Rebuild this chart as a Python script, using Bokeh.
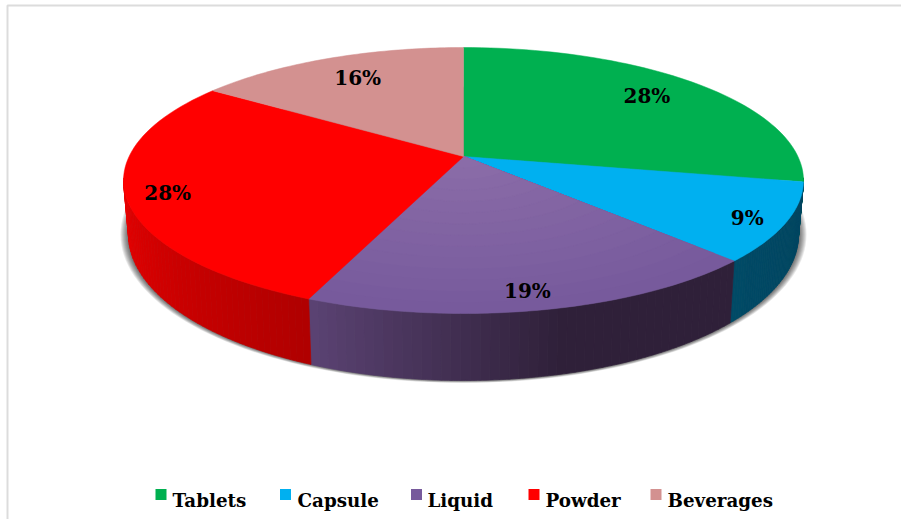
import math
from bokeh.plotting import figure
from bokeh.models import Range1d
from bokeh.core.properties import value
from bokeh.embed import file_html
from bokeh.resources import INLINE

# ---- data ----
categories = ["Tablets", "Capsule", "Liquid", "Powder", "Beverages"]
shares = [28.0, 9.4, 19.0, 28.0, 15.6]
labels = ["28%", "9%", "19%", "28%", "16%"]

# ---- style ----
top_colors = ["#00B050", "#00B0F0", "#775A9C", "#FF0000", "#D39190"]
top_inner = ["#00B050", "#00B0F0", "#8A6CA8", "#FF0000", "#D39190"]
wall_left = ["#00803A", "#004A66", "#5A4272", "#E80000", "#A06C6A"]
wall_right = ["#00803A", "#004560", "#2F2039", "#B00000", "#A06C6A"]
legend_box_x = [160.5, 285, 416, 533.5, 655.5]
legend_text_x = [172, 297, 427, 545, 667]
label_fx = [0.80, 0.88, 0.826, 0.876, 0.79]
label_fy = [0.82, 0.93, 0.875, 0.93, 0.80]

W, H = 901, 519
CX, CY, RX, RY = 463, 180, 340, 133     # top rim
BY, BRX, BRY = 234, 335, 146            # bottom rim
APEX_Y = 156
E = (CY - APEX_Y) / RY
FONT = "DejaVu Serif"


def rim_t(phi):
    """Rim parameter (radians, clockwise from the top) of a pie angle."""
    c, s_ = math.cos(phi), math.sin(phi)
    s = -E * c + math.sqrt(E * E * c * c - E * E + 1)
    return math.atan2(s * s_, s * c + E)


def top_pt(t):
    return CX + RX * math.sin(t), CY - RY * math.cos(t)


def bot_pt(t):
    return CX + BRX * math.sin(t), BY - BRY * math.cos(t)


def lerp_hex(a, b, f):
    ca = [int(a[i:i + 2], 16) for i in (1, 3, 5)]
    cb = [int(b[i:i + 2], 16) for i in (1, 3, 5)]
    return "#%02x%02x%02x" % tuple(round(x + (y - x) * f) for x, y in zip(ca, cb))


p = figure(width=W, height=H, x_range=Range1d(0, W), y_range=Range1d(H, 0),
           output_backend="svg", toolbar_location=None, min_border=0,
           outline_line_color=None, background_fill_color="white",
           border_fill_color="white")
p.axis.visible = False
p.grid.visible = False

# frame
p.line([7, 7, W], [H, 5, 5], line_color="#DCDCDC", line_width=2)

# shadow under the disc
for k in range(8, 0, -1):
    xs, ys = [], []
    for i in range(181):
        a = i * 2 * math.pi / 180
        xs.append(CX + (BRX + k) * math.sin(a))
        ys.append(BY - (BRY + k * 0.3) * math.cos(a))
    p.patch(xs, ys, fill_color="black", fill_alpha=0.09, line_color=None)

# slice boundaries
total = sum(shares)
edges = [0.0]
for v in shares:
    edges.append(edges[-1] + v / total * 2 * math.pi)


def unwrap(phi):
    t = rim_t(phi)
    return t + 2 * math.pi if t < -1e-9 else t


# walls
T_LO, T_HI = math.pi / 2, 3 * math.pi / 2
for i in range(len(shares)):
    t0, t1 = unwrap(edges[i]), unwrap(edges[i + 1]) if i < len(shares) - 1 else 2 * math.pi
    a, b = max(t0, T_LO - 0.02), min(t1, T_HI + 0.02)
    if b <= a:
        continue
    n = 48
    for j in range(n):
        ta = a + (b - a) * j / n
        tb = a + (b - a) * (j + 1) / n
        # t grows from right to left along the front of the disc
        f = j / (n - 1)
        if i == 2:
            f = max(0.0, (f - 0.45) / 0.55)
        col = lerp_hex(wall_right[i], wall_left[i], f)
        pts = [top_pt(ta + (tb - ta) * q / 4) for q in range(5)] + [bot_pt(tb - (tb - ta) * q / 4) for q in range(5)]
        p.patch([q[0] for q in pts], [q[1] for q in pts], fill_color=col, line_color=col, line_width=0.7)

# top surface, nested from the rim to the apex for the shading
for i in range(len(shares)):
    t0, t1 = unwrap(edges[i]), unwrap(edges[i + 1]) if i < len(shares) - 1 else 2 * math.pi
    n_pts = 60
    rim = [top_pt(t0 + (t1 - t0) * q / n_pts) for q in range(n_pts + 1)]
    levels = 14 if top_colors[i] != top_inner[i] else 1
    for lv in range(levels):
        scale = 1 - lv / levels
        f = lv / max(1, levels - 1)
        col = lerp_hex(top_colors[i], top_inner[i], f)
        xs = [CX] + [CX + (q[0] - CX) * scale for q in rim]
        ys = [APEX_Y] + [APEX_Y + (q[1] - APEX_Y) * scale for q in rim]
        p.patch(xs, ys, fill_color=col, line_color=col, line_width=0.5)

# data labels
for i, text in enumerate(labels):
    mid = (edges[i] + edges[i + 1]) / 2
    x, y = top_pt(rim_t(mid))
    lx = CX + (x - CX) * label_fx[i]
    ly = APEX_Y + (y - APEX_Y) * label_fy[i]
    p.text([lx], [ly], text=[text], text_font=value(FONT), text_font_style="bold",
           text_font_size="20px", text_color="black", text_align="center",
           text_baseline="middle")

# legend
for i, name in enumerate(categories):
    p.rect([legend_box_x[i]], [494], width=11, height=11, fill_color=top_colors[i],
           line_color=None)
    p.text([legend_text_x[i]], [500], text=[name], text_font=value(FONT), text_font_style="bold",
           text_font_size="18.3px", text_color="black", text_align="left",
           text_baseline="alphabetic")

open("out.html", "w").write(file_html(p, INLINE))
